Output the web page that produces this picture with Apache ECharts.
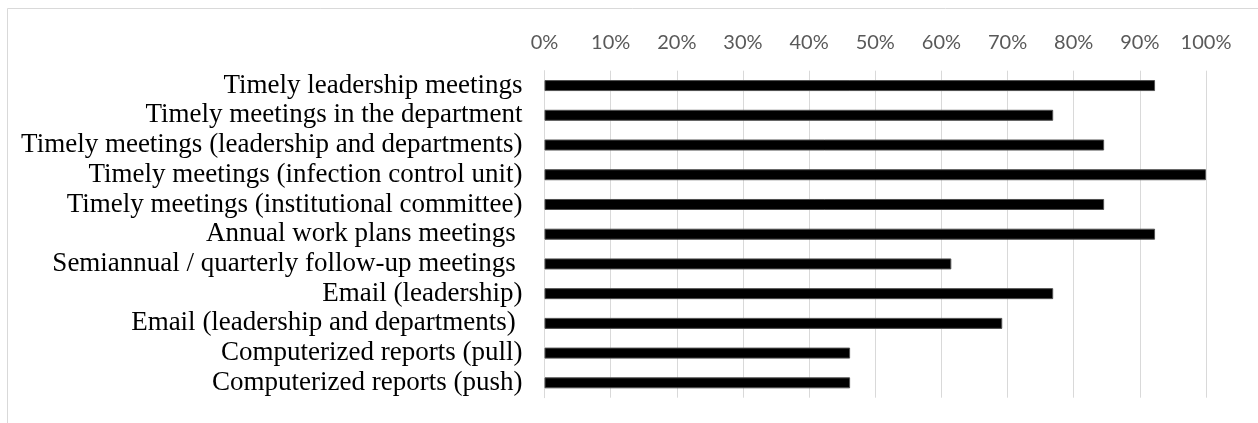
<!DOCTYPE html>
<html>
<head>
<meta charset="utf-8">
<script src="https://cdn.jsdelivr.net/npm/echarts@6/dist/echarts.min.js"></script>
<style>
  html, body { margin: 0; padding: 0; background: #ffffff; }
  #chart { width: 1258px; height: 423px; }
</style>
</head>
<body>
<div id="chart"></div>
<script>
const categories = [
  "Timely leadership meetings",
  "Timely meetings in the department",
  "Timely meetings (leadership and departments)",
  "Timely meetings (infection control unit)",
  "Timely meetings (institutional committee)",
  "Annual work plans meetings ",
  "Semiannual / quarterly follow-up meetings ",
  "Email (leadership)",
  "Email (leadership and departments) ",
  "Computerized reports (pull)",
  "Computerized reports (push)"
];
const values = [92.3, 76.9, 84.6, 100, 84.6, 92.3, 61.5, 76.9, 69.2, 46.2, 46.2];
const tickMin = 0;
const tickMax = 100;
const tickStep = 10;

const chart = echarts.init(document.getElementById('chart'), null, { renderer: 'canvas' });
chart.setOption({
  animation: false,
  backgroundColor: '#ffffff',
  grid: { left: 544.5, right: 52, top: 70.7, bottom: 25.3, containLabel: false },
  xAxis: {
    type: 'value',
    position: 'top',
    min: tickMin,
    max: tickMax,
    interval: tickStep,
    axisLine: { show: false },
    axisTick: { show: false },
    axisLabel: {
      formatter: '{value}%',
      color: '#595959',
      fontFamily: 'Lato',
      fontSize: 20,
      margin: 18
    },
    splitLine: { show: true, lineStyle: { color: '#d9d9d9', width: 1 } }
  },
  yAxis: {
    type: 'category',
    data: categories,
    inverse: true,
    axisLine: { show: true, lineStyle: { color: '#d9d9d9', width: 1 } },
    axisTick: { show: false },
    axisLabel: {
      interval: 0,
      hideOverlap: false,
      color: '#000000',
      fontFamily: 'Liberation Serif',
      fontSize: 27,
      margin: 22
    },
    splitLine: { show: false }
  },
  series: [{
    type: 'bar',
    data: values,
    barWidth: 11,
    itemStyle: { color: '#000000', borderColor: '#505050', borderWidth: 1 }
  }],
  graphic: [
    { type: 'line', shape: { x1: 7.5, y1: 8.5, x2: 1258, y2: 8.5 }, style: { stroke: '#d9d9d9', lineWidth: 1 } },
    { type: 'line', shape: { x1: 7.5, y1: 8.5, x2: 7.5, y2: 423 }, style: { stroke: '#d9d9d9', lineWidth: 1 } }
  ]
});
</script>
</body>
</html>
